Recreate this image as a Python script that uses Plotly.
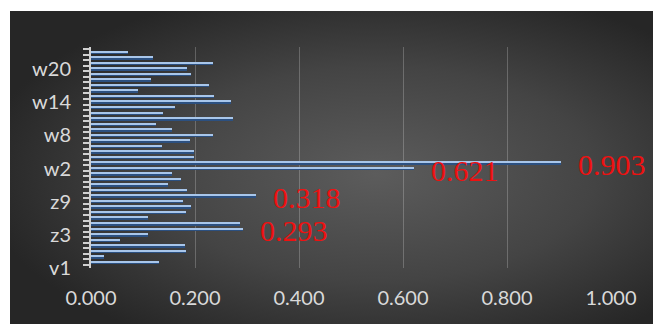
import base64
import plotly.graph_objects as go

# Categories from bottom to top: v1..v4, z1..z13, w1..w22
categories = ([f"v{i}" for i in range(1, 5)]
              + [f"z{i}" for i in range(1, 14)]
              + [f"w{i}" for i in range(1, 23)])

values = [
    0.131, 0.025, 0.183, 0.181,                      # v1..v4
    0.056, 0.110, 0.293, 0.287, 0.109, 0.183, 0.192,  # z1..z7
    0.176, 0.318, 0.184, 0.149, 0.174, 0.156,         # z8..z13
    0.621, 0.903, 0.199, 0.199, 0.136, 0.190, 0.235,  # w1..w7
    0.155, 0.125, 0.274, 0.139, 0.162, 0.269, 0.236,  # w8..w14
    0.090, 0.226, 0.115, 0.192, 0.184, 0.235, 0.120,  # w15..w21
    0.071,                                           # w22
]

labelled = ["z3", "z9", "w1", "w2"]
tick_labels = ["v1", "z3", "z9", "w2", "w8", "w14", "w20"]

W, H = 653, 324
pos = list(range(len(categories)))
tick_pos = [categories.index(t) for t in tick_labels]

# radial dark-grey backdrop as an inline svg
svg = (
    '<svg xmlns="http://www.w3.org/2000/svg" width="643" height="313" '
    'viewBox="0 0 643 313" preserveAspectRatio="none">'
    '<defs><radialGradient id="g" cx="0.57" cy="0.52" r="0.62" '
    'gradientUnits="objectBoundingBox">'
    '<stop offset="0" stop-color="#5c5c5c"/>'
    '<stop offset="0.55" stop-color="#444444"/>'
    '<stop offset="1" stop-color="#262626"/>'
    '</radialGradient></defs>'
    '<rect width="643" height="313" fill="url(#g)"/></svg>'
)
bg_src = "data:image/svg+xml;base64," + base64.b64encode(svg.encode()).decode()

fig = go.Figure()

# bar body
fig.add_trace(go.Bar(
    x=values, y=pos, orientation="h",
    width=0.62, offset=-0.31,
    marker=dict(color="#2c5080", line=dict(width=0)),
    hoverinfo="skip", showlegend=False,
))
# highlighted upper edge of each bar
fig.add_trace(go.Bar(
    x=values, y=pos, orientation="h",
    width=0.26, offset=0.05,
    marker=dict(color="#a8c6ea", line=dict(width=0)),
    hoverinfo="skip", showlegend=False,
))

for name in labelled:
    i = categories.index(name)
    v = values[i]
    fig.add_annotation(
        x=v, y=i, xref="x", yref="y",
        text=f"{v:.3f}", showarrow=False,
        xanchor="left", yanchor="middle", xshift=15, yshift=-2,
        font=dict(family="Liberation Serif", size=30, color="#ee1111"),
    )

x0_px, x1_px = 91, 611
y_top_px, y_bot_px = 46.5, 267.5

fig.update_layout(
    width=W, height=H,
    autosize=False,
    margin=dict(l=0, r=0, t=0, b=0, pad=0, autoexpand=False),
    paper_bgcolor="white",
    plot_bgcolor="rgba(0,0,0,0)",
    barmode="overlay",
    bargap=0,
    font=dict(family="Lato", color="#d9d9d9", size=20),
    images=[dict(
        source=bg_src, xref="paper", yref="paper",
        x=10 / W, y=1 - 11 / H, sizex=643 / W, sizey=313 / H,
        xanchor="left", yanchor="top", sizing="stretch", layer="below",
    )],
    xaxis=dict(
        domain=[x0_px / W, x1_px / W],
        range=[0, 1.0], tickmode="array",
        tickvals=[0, 0.2, 0.4, 0.6, 0.8, 1.0],
        tickformat=".3f",
        showgrid=True, gridcolor="rgba(255,255,255,0.22)", gridwidth=1,
        zeroline=False, showline=False, ticks="",
        ticklabelstandoff=16, automargin=False,
        tickfont=dict(family="Lato", size=20, color="#d9d9d9"),
        fixedrange=True,
    ),
    yaxis=dict(
        domain=[1 - y_bot_px / H, 1 - y_top_px / H],
        range=[-1.0, len(categories)],
        tickmode="array", tickvals=tick_pos, ticktext=tick_labels,
        ticks="", showgrid=False, zeroline=False,
        showline=True, linecolor="#d0d0d0", linewidth=2,
        ticklabelstandoff=14, ticklabelshift=6, automargin=False,
        tickfont=dict(family="Lato", size=20, color="#d9d9d9"),
        minor=dict(tickmode="linear", tick0=0.5, dtick=1, ticks="outside",
                   ticklen=6, tickwidth=2, tickcolor="#d0d0d0", showgrid=False),
        fixedrange=True,
    ),
)

fig.write_html("out.html")
